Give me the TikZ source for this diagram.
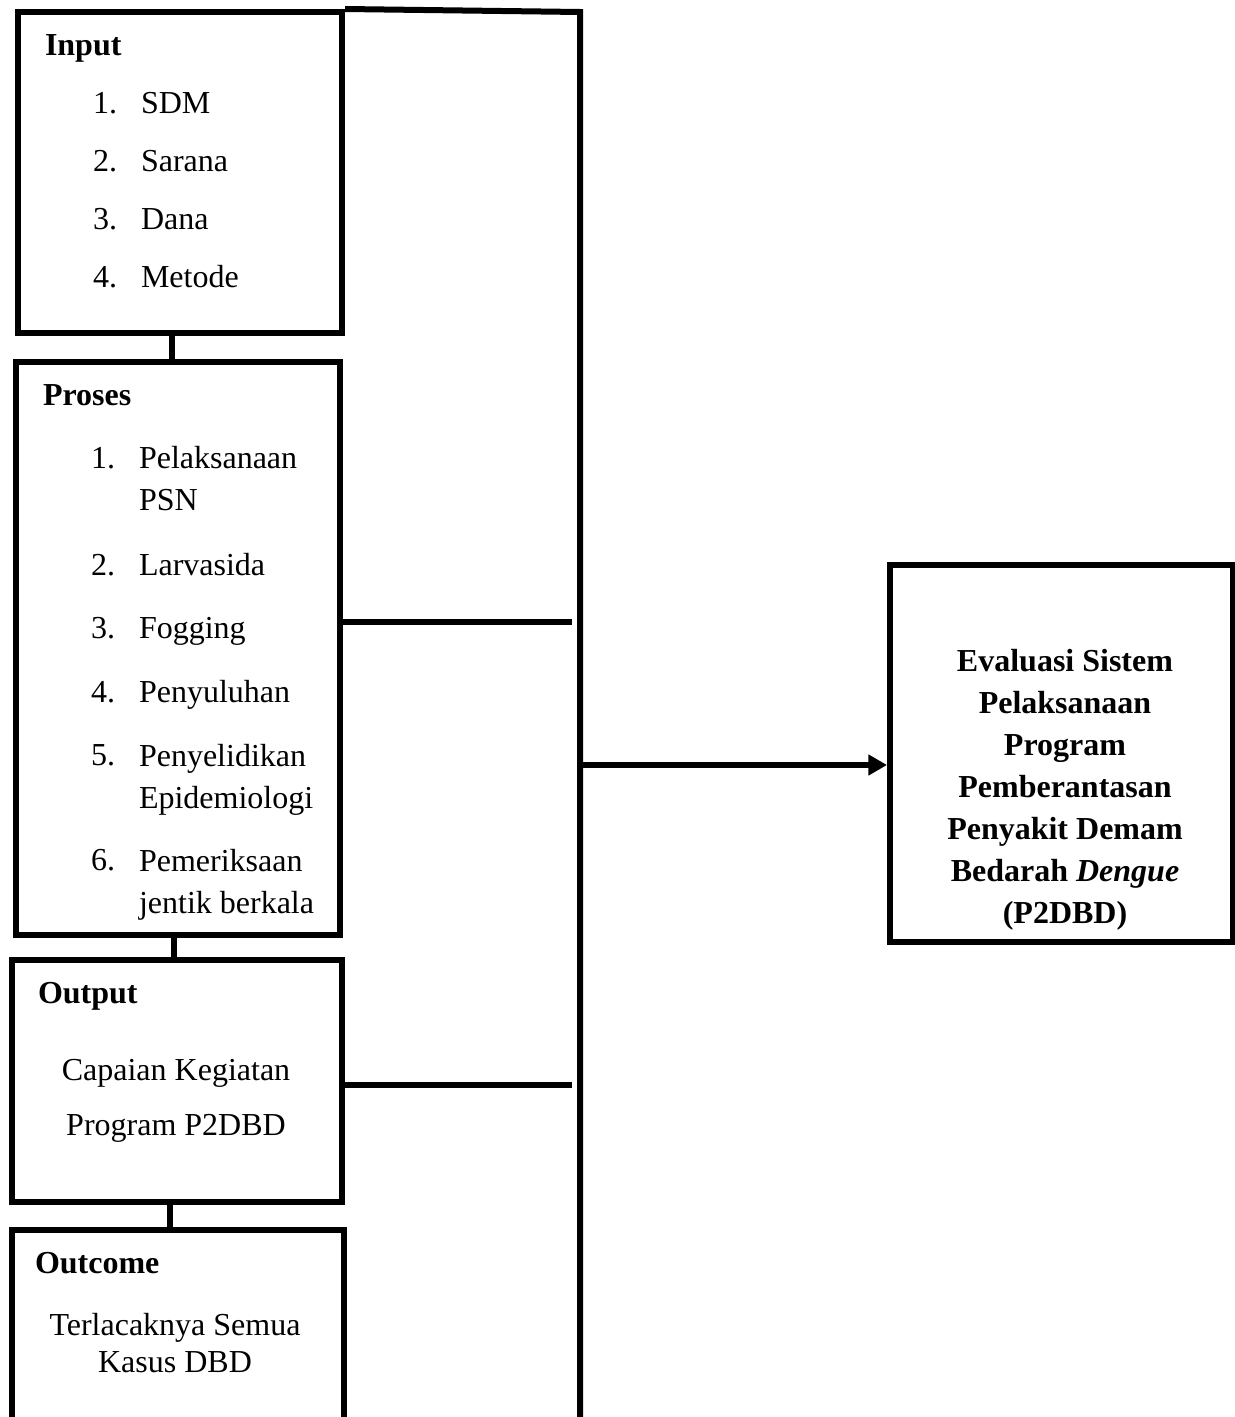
\documentclass[tikz,border=0pt]{standalone}
\usepackage{fontspec}
\setmainfont{Liberation Serif}
\usetikzlibrary{arrows.meta}
\newcommand{\unitpx}{0.375pt}

\begin{document}
\begin{tikzpicture}[x=\unitpx, y=-\unitpx, line width=2.25pt,
    box/.style={rectangle,draw,inner sep=0pt},
    title/.style={anchor=base west,inner sep=0pt,font=\fontsize{12}{15.75}\selectfont\bfseries},
    num/.style={anchor=base west,inner sep=0pt,font=\fontsize{12}{15.75}\selectfont},
    item/.style={anchor=base west,align=left,inner sep=0pt,font=\fontsize{12}{15.75}\selectfont},
    line/.style={anchor=base,inner sep=0pt,font=\fontsize{12}{15.75}\selectfont}]
    \useasboundingbox (0,0) rectangle (1235,1417);
    % boxes
    \node[box, minimum width=324*\unitpx, minimum height=321*\unitpx] (input) at (180,172.5) {};
    \node[box, minimum width=324*\unitpx, minimum height=573*\unitpx] (proses) at (178,648.5) {};
    \node[box, minimum width=330*\unitpx, minimum height=242*\unitpx] (output) at (177,1081) {};
    \node[box, minimum width=332*\unitpx, minimum height=210*\unitpx] (outcome) at (178,1335) {};
    \node[box, minimum width=343*\unitpx, minimum height=377*\unitpx] (eval) at (1061.5,753.5) {};
    % input
    \node[title] (intitle) at (42,55) {Input};
    \node[num] (in1) at (90,113) {1.};
    \node[item] (sdm) at (138,113) {SDM};
    \node[num] (in2) at (90,171) {2.};
    \node[item] (sarana) at (138,171) {Sarana};
    \node[num] (in3) at (90,229) {3.};
    \node[item] (dana) at (138,229) {Dana};
    \node[num] (in4) at (90,287) {4.};
    \node[item] (metode) at (138,287) {Metode};
    % proses (multi-line items sit on their last baseline)
    \node[title] (prtitle) at (40,405) {Proses};
    \node[num] (pr1) at (88,468) {1.};
    \node[item] (psn) at (136,510) {Pelaksanaan\\PSN};
    \node[num] (pr2) at (88,575) {2.};
    \node[item] (larva) at (136,575) {Larvasida};
    \node[num] (pr3) at (88,638) {3.};
    \node[item] (fog) at (136,638) {Fogging};
    \node[num] (pr4) at (88,702) {4.};
    \node[item] (suluh) at (136,702) {Penyuluhan};
    \node[num] (pr5) at (88,765) {5.};
    \node[item] (epid) at (136,808) {Penyelidikan\\Epidemiologi};
    \node[num] (pr6) at (88,870) {6.};
    \node[item] (jentik) at (136,913) {Pemeriksaan\\jentik berkala};
    % output
    \node[title] (outtitle) at (35,1003) {Output};
    \node[line] (out1) at (176,1080) {Capaian Kegiatan};
    \node[line] (out2) at (176,1135) {Program P2DBD};
    % outcome
    \node[title] (octitle) at (32,1273) {Outcome};
    \node[line] (oc1) at (175,1335) {Terlacaknya Semua};
    \node[line] (oc2) at (175,1372) {Kasus DBD};
    % evaluasi
    \node[line, align=center, font=\fontsize{12}{15.75}\selectfont\bfseries] (evaltext) at (1065,923)
        {Evaluasi Sistem\\Pelaksanaan\\Program\\Pemberantasan\\Penyakit Demam\\Bedarah \textit{Dengue}\\(P2DBD)};
    % connectors
    \coordinate (top) at (580,12);
    \coordinate (bottom) at (580,1425);
    \coordinate (pend) at (572,622);
    \coordinate (oend) at (572,1085);
    \coordinate (split) at (580,765);
    \draw ([xshift=-8*\unitpx]input.south) -- ([xshift=-8*\unitpx]input.south |- proses.north);
    \draw ([xshift=-4*\unitpx]proses.south) -- ([xshift=-4*\unitpx]proses.south |- output.north);
    \draw ([xshift=-7*\unitpx]output.south) -- ([xshift=-7*\unitpx]output.south |- outcome.north);
    \draw (input.north east) -- (top) -- (bottom);
    \draw (proses.east |- pend) -- (pend);
    \draw (output.east |- oend) -- (oend);
    \draw[-{Triangle[length=7pt,width=7.5pt]}] (split) -- (split -| eval.west);
\end{tikzpicture}
\end{document}
